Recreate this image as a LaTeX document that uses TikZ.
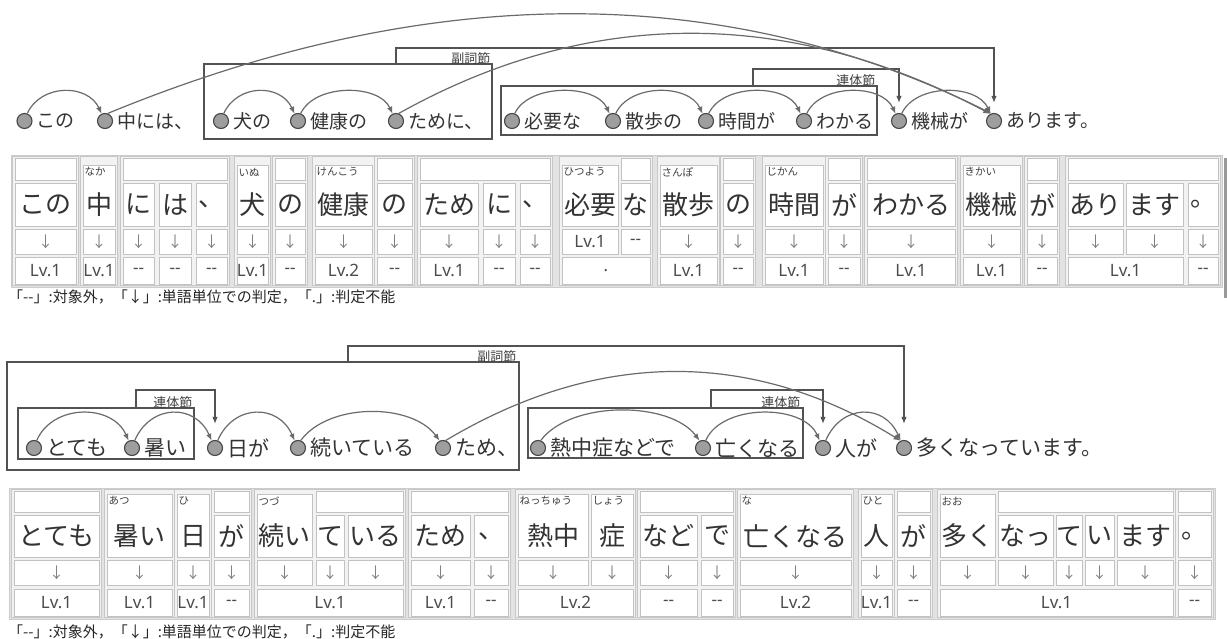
\documentclass[tikz,border=0pt]{standalone}
\usepackage{fontspec}
\setmainfont{Noto Sans CJK JP}
\newfontfamily\latf{Noto Sans}
\usetikzlibrary{arrows.meta}
\newcounter{cellno}
\newcommand\px[1]{\fontsize{#1}{#1}\selectfont}
\newcommand\arrowdn{↓}
\newcommand\nodash{-{}-}
% table helpers (x in px, rows from \rw... macros)
\newcommand\Grp[2]{\path[grpsty] (#1-2.5,\rwTop+1.5) rectangle (#2+2.5,\rwBot-1.5);}
\newcommand\Hdr[2]{\path[wcell] (#1,\rwHt) rectangle (#2,\rwHb);}
\newcommand\Pc[3]{\path[wcell] (#1,\rwCt) rectangle (#2,\rwCb);%
  \stepcounter{cellno}\node[big] (c\arabic{cellno}) at ({(#1+#2)/2},\rwCy) {#3};}
\newcommand\Rc[4]{\path[wcell] (#1,\rwRt) rectangle (#2,\rwCb);%
  \stepcounter{cellno}\node[furi] (c\arabic{cellno}) at (#1+1.5,\rwFy) {#3};%
  \stepcounter{cellno}\node[big] (c\arabic{cellno}) at ({(#1+#2)/2},\rwCy) {#4};}
\newcommand\Ac[2]{\path[wcell] (#1,\rwAt) rectangle (#2,\rwAb);%
  \stepcounter{cellno}\node[arr] (c\arabic{cellno}) at ({(#1+#2)/2},\rwAy) {\arrowdn};}
\newcommand\Av[3]{\path[wcell] (#1,\rwAt) rectangle (#2,\rwAb);%
  \stepcounter{cellno}\node[lv] (c\arabic{cellno}) at ({(#1+#2)/2},\rwAy) {#3};}
\newcommand\Lc[3]{\path[wcell] (#1,\rwLt) rectangle (#2,\rwLb);%
  \stepcounter{cellno}\node[lv] (c\arabic{cellno}) at ({(#1+#2)/2},\rwLy) {#3};}
\tikzset{
  dot/.style={circle, minimum size=15pt, inner sep=0pt, fill=black!38, draw=black!72, line width=1.1pt},
  w1/.style={anchor=west, inner sep=0pt, font=\px{19}, text=black!80, xshift=4pt},
  w2/.style={anchor=west, inner sep=0pt, font=\px{21}, text=black!80, xshift=4pt},
  hop/.style={draw=black!58, line width=1.2pt, -{Latex[length=7pt,width=5.5pt]}},
  boxsty/.style={draw=black!68, line width=1.3pt},
  brk/.style={draw=black!68, line width=1.3pt, -{Latex[length=7pt,width=5.5pt]}},
  tag/.style={anchor=south east, inner sep=0.5pt, font=\px{13}, text=black!75},
  tbl/.style={fill=black!11, draw=black!20, line width=0.8pt},
  grpsty/.style={fill=black!5, draw=black!22, line width=0.8pt},
  wcell/.style={fill=white, draw=black!24, line width=0.9pt},
  big/.style={inner sep=0pt, font=\px{26}, text=black!80},
  furi/.style={anchor=west, inner sep=0pt, font=\px{10.5}, text=black!75},
  arr/.style={inner sep=0pt, font=\px{15}, text=black!50},
  lv/.style={inner sep=0pt, font=\latf\px{17}, text=black!70},
  note/.style={anchor=west, inner sep=0pt, font=\px{15}, text=black!85},
}
\begin{document}
\begin{tikzpicture}[x=1pt,y=-1pt]
\path[use as bounding box, fill=white] (0,0) rectangle (1227,639);

%% ---------------- Sentence 1 ----------------
\draw[boxsty] (204,64) rectangle (492,139);
\draw[boxsty] (501,86) rectangle (877,135);
\foreach \n/\x/\tx in {a/24.5/この,b/105/中には、,c/221/犬の,d/298/健康の,e/396/ために、,f/512/必要な,g/613/散歩の,h/706/時間が,i/804/わかる,j/899/機械が,k/994/あります。}{
  \node[dot] (s1\n) at (\x,121) {};
  \node[w1] (s1\n t) at (s1\n.east) {\tx};
}
\coordinate (s1p) at (396,64); \coordinate (s1q) at (396,48);
\draw[brk] (s1p) -- (s1q) -| ([yshift=10pt]s1k.north);
\coordinate (s1r) at (753,86); \coordinate (s1s) at (753,69);
\draw[brk] (s1r) -- (s1s) -| ([yshift=10pt]s1j.north);
\node[tag] (s1L1) at (491,65) {副詞節};
\node[tag] (s1L2) at (876,87) {連体節};
\foreach \a/\b in {a/b,c/d,d/e,f/g,g/h,h/i,i/j,j/k}
  \draw[hop] (s1\a.70) .. controls +(14,-30) and +(-14,-30) .. (s1\b.115);
\draw[hop] (s1b.70) .. controls (429,-19) and (725,-19) .. (s1k.110);
\draw[hop] (s1e.70) .. controls (589,7) and (788,7) .. (s1k.118);

%% ---------------- Table 1 ----------------
\def\rwTop{155}\def\rwBot{287}\def\rwHt{158}\def\rwHb{180}\def\rwRt{165}
\def\rwCt{183}\def\rwCb{226}\def\rwAt{229}\def\rwAb{254}\def\rwLt{257}\def\rwLb{284}
\def\rwFy{172}\def\rwCy{204.5}\def\rwAy{241.5}\def\rwLy{270.5}
\path[tbl] (11,\rwTop) rectangle (1222,\rwBot);
\Grp{15}{76}\Hdr{15}{76}\Pc{15}{76}{この}\Ac{15}{76}\Lc{15}{76}{Lv.1}
\Grp{83}{115}\Rc{83}{115}{なか}{中}\Ac{83}{115}\Lc{83}{115}{Lv.1}
\Grp{123}{227}\Hdr{123}{227}\Pc{123}{154}{に}\Pc{159}{191}{は}\Pc{196}{227}{、}
 \Ac{123}{154}\Ac{159}{191}\Ac{196}{227}\Lc{123}{154}{\nodash}\Lc{159}{191}{\nodash}\Lc{196}{227}{\nodash}
\Grp{237}{268}\Rc{237}{268}{いぬ}{犬}\Ac{237}{268}\Lc{237}{268}{Lv.1}
\Grp{275}{305}\Hdr{275}{305}\Pc{275}{305}{の}\Ac{275}{305}\Lc{275}{305}{\nodash}
\Grp{315}{372}\Rc{315}{372}{けんこう}{健康}\Ac{315}{372}\Lc{315}{372}{Lv.2}
\Grp{377}{412}\Hdr{377}{412}\Pc{377}{412}{の}\Ac{377}{412}\Lc{377}{412}{\nodash}
\Grp{420}{550}\Hdr{420}{550}\Pc{420}{478}{ため}\Pc{483}{515}{に}\Pc{520}{550}{、}
 \Ac{420}{478}\Ac{483}{515}\Ac{520}{550}\Lc{420}{478}{Lv.1}\Lc{483}{515}{\nodash}\Lc{520}{550}{\nodash}
\Grp{562}{650}\Rc{562}{618}{ひつよう}{必要}\Hdr{621}{650}\Pc{621}{650}{な}
 \Av{562}{618}{Lv.1}\Av{621}{650}{\nodash}\Lc{562}{650}{.}
\Grp{660}{717}\Rc{660}{717}{さんぽ}{散歩}\Ac{660}{717}\Lc{660}{717}{Lv.1}
\Grp{723}{753}\Hdr{723}{753}\Pc{723}{753}{の}\Ac{723}{753}\Lc{723}{753}{\nodash}
\Grp{765}{823}\Rc{765}{823}{じかん}{時間}\Ac{765}{823}\Lc{765}{823}{Lv.1}
\Grp{828}{860}\Hdr{828}{860}\Pc{828}{860}{が}\Ac{828}{860}\Lc{828}{860}{\nodash}
\Grp{867}{955}\Hdr{867}{955}\Pc{867}{955}{わかる}\Ac{867}{955}\Lc{867}{955}{Lv.1}
\Grp{963}{1020}\Rc{963}{1020}{きかい}{機械}\Ac{963}{1020}\Lc{963}{1020}{Lv.1}
\Grp{1027}{1057}\Hdr{1027}{1057}\Pc{1027}{1057}{が}\Ac{1027}{1057}\Lc{1027}{1057}{\nodash}
\Grp{1068}{1218}\Hdr{1068}{1218}\Pc{1068}{1123}{あり}\Pc{1126}{1183}{ます}\Pc{1188}{1218}{。}
 \Ac{1068}{1123}\Ac{1126}{1183}\Ac{1188}{1218}\Lc{1068}{1183}{Lv.1}\Lc{1188}{1218}{\nodash}
\draw[black!40, line width=3pt] (1225,158) -- (1225,298);
\node[note] (lg1) at (8,297) {「\nodash」:対象外，「↓」:単語単位での判定，「.」:判定不能};

%% ---------------- Sentence 2 ----------------
\draw[boxsty] (7,362) rectangle (519,470);
\draw[boxsty] (18,408) rectangle (194,459);
\draw[boxsty] (528,408) rectangle (803,458);
\foreach \n/\x/\tx in {a/34/とても,b/132/暑い,c/215/日が,d/298/続いている,e/443/ため、,f/538/熱中症などで,g/703/亡くなる,h/823/人が,i/904/多くなっています。}{
  \node[dot] (s2\n) at (\x,448) {};
  \node[w2] (s2\n t) at (s2\n.east) {\tx};
}
\coordinate (s2p) at (136,408); \coordinate (s2q) at (136,390);
\draw[brk] (s2p) -- (s2q) -| ([yshift=16pt]s2c.north);
\coordinate (s2r) at (348,362); \coordinate (s2s) at (348,346);
\draw[brk] (s2r) -- (s2s) -| ([yshift=16pt]s2i.north);
\coordinate (s2u) at (711,408); \coordinate (s2v) at (711,390);
\draw[brk] (s2u) -- (s2v) -| ([yshift=16pt]s2h.north);
\node[tag] (s2L1) at (193,409) {連体節};
\node[tag] (s2L2) at (517,363) {副詞節};
\node[tag] (s2L3) at (801,409) {連体節};
\foreach \a/\b in {a/b,b/c,c/d,g/h,h/i}
  \draw[hop] (s2\a.70) .. controls +(16,-37) and +(-16,-37) .. (s2\b.115);
\draw[hop] (s2d.70) .. controls +(28,-38) and +(-28,-38) .. (s2e.115);
\draw[hop] (s2f.70) .. controls +(30,-40) and +(-30,-40) .. (s2g.115);
\draw[hop] (s2e.70) .. controls (599,349) and (752,349) .. (s2i.115);

%% ---------------- Table 2 ----------------
\def\rwTop{488}\def\rwBot{619}\def\rwHt{491}\def\rwHb{512}\def\rwRt{494}
\def\rwCt{515}\def\rwCb{557}\def\rwAt{560}\def\rwAb{585}\def\rwLt{589}\def\rwLb{616}
\def\rwFy{501}\def\rwCy{536}\def\rwAy{572.5}\def\rwLy{602.5}
\path[tbl] (9,\rwTop) rectangle (1215,\rwBot);
\Grp{14}{99}\Hdr{14}{99}\Pc{14}{99}{とても}\Ac{14}{99}\Lc{14}{99}{Lv.1}
\Grp{107}{172}\Rc{107}{172}{あつ}{暑い}\Ac{107}{172}\Lc{107}{172}{Lv.1}
\Grp{177}{209}\Rc{177}{209}{ひ}{日}\Ac{177}{209}\Lc{177}{209}{Lv.1}
\Grp{214}{249}\Hdr{214}{249}\Pc{214}{249}{が}\Ac{214}{249}\Lc{214}{249}{\nodash}
\Grp{257}{403}\Rc{257}{312}{つづ}{続い}\Hdr{316}{403}\Pc{316}{344}{て}\Pc{348}{403}{いる}
 \Ac{257}{312}\Ac{316}{344}\Ac{348}{403}\Lc{257}{403}{Lv.1}
\Grp{411}{508}\Hdr{411}{508}\Pc{411}{470}{ため}\Pc{474}{508}{、}
 \Ac{411}{470}\Ac{474}{508}\Lc{411}{470}{Lv.1}\Lc{474}{508}{\nodash}
\Grp{518}{633}\Rc{518}{588}{ねっちゅう}{熱中}\Rc{591}{633}{しょう}{症}
 \Ac{518}{588}\Ac{591}{633}\Lc{518}{633}{Lv.2}
\Grp{640}{733}\Hdr{640}{733}\Pc{640}{697}{など}\Pc{701}{733}{で}
 \Ac{640}{697}\Ac{701}{733}\Lc{640}{697}{\nodash}\Lc{701}{733}{\nodash}
\Grp{740}{851}\Rc{740}{851}{な}{亡くなる}\Ac{740}{851}\Lc{740}{851}{Lv.2}
\Grp{861}{892}\Rc{861}{892}{ひと}{人}\Ac{861}{892}\Lc{861}{892}{Lv.1}
\Grp{897}{930}\Hdr{897}{930}\Pc{897}{930}{が}\Ac{897}{930}\Lc{897}{930}{\nodash}
\Grp{940}{1173}\Rc{940}{995}{おお}{多く}\Hdr{998}{1173}\Pc{998}{1053}{なっ}\Pc{1056}{1082}{て}\Pc{1085}{1114}{い}\Pc{1117}{1173}{ます}
 \Ac{940}{995}\Ac{998}{1053}\Ac{1056}{1082}\Ac{1085}{1114}\Ac{1117}{1173}\Lc{940}{1173}{Lv.1}
\Grp{1178}{1211}\Hdr{1178}{1211}\Pc{1178}{1211}{。}\Ac{1178}{1211}\Lc{1178}{1211}{\nodash}
\node[note] (lg2) at (8,632) {「\nodash」:対象外，「↓」:単語単位での判定，「.」:判定不能};
\end{tikzpicture}
\end{document}
